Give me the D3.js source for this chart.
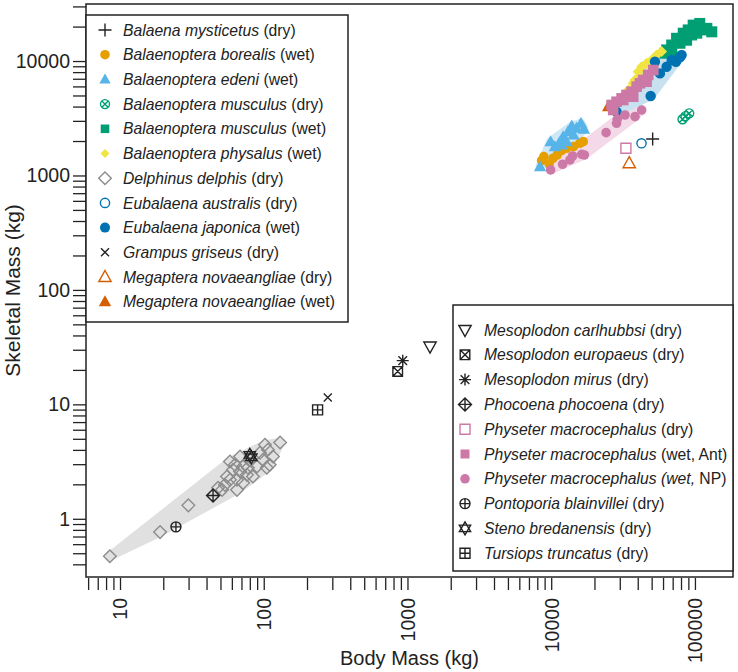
<!DOCTYPE html>
<html>
<head>
<meta charset="utf-8">
<script src="https://cdn.jsdelivr.net/npm/d3@7"></script>
<style>
  body { margin: 0; background: #fff; }
  svg { display: block; font-family: "Liberation Sans", Arial, sans-serif; }
</style>
</head>
<body>
<svg id="chart" width="738" height="672"></svg>
<script>
// each point: [body mass kg, skeletal mass kg]
const balaenaMysticetusDry = [[50800, 2080]];
const borealisWet = [[8570, 1349], [8890, 1461], [9680, 1260], [10300, 1414], [11000, 1510],
  [11800, 1648], [12800, 1729], [14300, 1785], [15800, 1911], [16700, 1975]];
const edeniWet = [[8360, 1194], [9910, 1975], [10600, 1785], [11400, 1935], [12100, 2183],
  [13100, 2415], [13900, 2706], [15000, 2582], [16100, 2858], [16900, 2531], [12800, 1975],
  [14300, 2259], [11800, 1846]];
const musculusDry = [[82000, 3100], [86000, 3300], [91200, 3490]];
const musculusWet = [[63500, 12500], [68900, 13800], [74500, 15800], [82900, 17500], [89800, 18700],
  [97200, 20600], [108000, 21300], [121000, 19300], [131000, 18000], [87500, 15200], [78700, 14300],
  [103000, 17500], [111000, 18700], [68900, 12100], [94800, 16900], [61800, 11700]];
const physalusWet = [[34400, 5580], [37200, 6390], [40300, 8070], [42600, 8920], [46100, 9550],
  [50000, 10200], [54100, 11300], [58600, 12100], [41400, 7290], [38300, 6820], [51300, 8920]];
const delphinusDry = [[8.5, 0.47], [19, 0.765], [29.9, 1.31], [130, 4.64], [58.2, 3.17], [68.4, 3.5],
  [110, 2.96], [116, 3.5], [107, 4.01], [94.2, 3.77], [89.8, 2.86], [71.8, 2.86], [61.1, 2.68],
  [58.2, 2.19], [53.7, 1.98], [51.3, 1.79], [65.2, 2.19], [71.8, 2.06], [76.4, 2.42], [84.1, 2.34],
  [68.4, 2.59], [80.2, 3.27], [98.9, 3.27], [105, 2.79], [55.5, 2.34], [65.2, 1.79], [48.1, 1.87],
  [102, 4.43], [77.6, 2.79], [63.1, 2.96]];
const australisDry = [[42500, 1910]];
const japonicaWet = [[49200, 4950], [52700, 9860], [57100, 7800], [63500, 8920], [68900, 10200],
  [73800, 9860], [78700, 10800], [80800, 11300], [28500, 3610]];
const grampusDry = [[279, 11.5]];
const megapteraDry = [[34900, 1280]];
const megapteraWet = [[24900, 3990]];
const carlhubbsiDry = [[1435, 32.0]];
const europaeusDry = [[855, 19.4]];
const mirusDry = [[927, 24.1]];
const phocoenaDry = [[44.4, 1.6]];
const physeterDry = [[33100, 1730]];
const physeterWetAnt = [[26300, 4130], [28500, 4410], [30900, 4720], [33400, 5050], [36200, 5400],
  [39300, 5970], [41400, 6390], [43600, 6820], [47300, 7550], [51300, 8340], [37200, 4880],
  [31700, 4560], [46100, 6590], [27000, 3730]];
const physeterWetNP = [[9910, 1117], [12000, 1253], [14100, 1480], [16300, 1531], [24100, 2366],
  [28500, 2858], [28800, 3097], [32600, 3375], [38300, 3265], [42600, 3730], [13500, 1366], [17000, 1510]];
const pontoporiaDry = [[24.5, 0.85]];
const stenoDry = [[80, 3.62], [82, 3.45]];
const tursiopsDry = [[237, 8.95]];

const xDomain = [5.8, 184000];
const yDomain = [0.31, 31500];

// series tables (style kept apart from values)
const seriesLeft = [
  { name: 'Balaena mysticetus', tag: ' (dry)', data: balaenaMysticetusDry, shape: 'plus', color: '#222', fill: false, r: 6.5, lr: 6.5 },
  { name: 'Balaenoptera borealis', tag: ' (wet)', data: borealisWet, shape: 'circle', color: '#E69F00', fill: true, r: 4.8, lr: 4.8 },
  { name: 'Balaenoptera edeni', tag: ' (wet)', data: edeniWet, shape: 'triUp', color: '#56B4E9', fill: true, r: 6.5, lr: 6 },
  { name: 'Balaenoptera musculus', tag: ' (dry)', data: musculusDry, shape: 'circleX', color: '#009E73', fill: false, r: 4.5, lr: 4.5 },
  { name: 'Balaenoptera musculus', tag: ' (wet)', data: musculusWet, shape: 'square', color: '#009E73', fill: true, r: 5.5, lr: 4.3 },
  { name: 'Balaenoptera physalus', tag: ' (wet)', data: physalusWet, shape: 'diamond', color: '#F0E442', fill: true, r: 5.5, lr: 4.5 },
  { name: 'Delphinus delphis', tag: ' (dry)', data: delphinusDry, shape: 'diamond', color: '#8c8c8c', fill: false, r: 6.3, lr: 6.3 },
  { name: 'Eubalaena australis', tag: ' (dry)', data: australisDry, shape: 'circle', color: '#0072B2', fill: false, r: 4.6, lr: 4.6 },
  { name: 'Eubalaena japonica', tag: ' (wet)', data: japonicaWet, shape: 'circle', color: '#0072B2', fill: true, r: 5.2, lr: 5 },
  { name: 'Grampus griseus', tag: ' (dry)', data: grampusDry, shape: 'cross', color: '#222', fill: false, r: 5, lr: 5 },
  { name: 'Megaptera novaeangliae', tag: ' (dry)', data: megapteraDry, shape: 'triUp', color: '#D55E00', fill: false, r: 6.5, lr: 6.5 },
  { name: 'Megaptera novaeangliae', tag: ' (wet)', data: megapteraWet, shape: 'triUp', color: '#D55E00', fill: true, r: 6.5, lr: 6.5 }
];
const seriesRight = [
  { name: 'Mesoplodon carlhubbsi', tag: ' (dry)', data: carlhubbsiDry, shape: 'triDown', color: '#222', fill: false, r: 6.5, lr: 6.5 },
  { name: 'Mesoplodon europaeus', tag: ' (dry)', data: europaeusDry, shape: 'squareX', color: '#222', fill: false, r: 4.8, lr: 4.8 },
  { name: 'Mesoplodon mirus', tag: ' (dry)', data: mirusDry, shape: 'asterisk', color: '#222', fill: false, r: 6, lr: 6 },
  { name: 'Phocoena phocoena', tag: ' (dry)', data: phocoenaDry, shape: 'diamondPlus', color: '#222', fill: false, r: 6.5, lr: 6.5 },
  { name: 'Physeter macrocephalus', tag: ' (dry)', data: physeterDry, shape: 'square', color: '#CC79A7', fill: false, r: 5, lr: 5 },
  { name: 'Physeter macrocephalus', tag: ' (wet, Ant)', data: physeterWetAnt, shape: 'square', color: '#CC79A7', fill: true, r: 5.3, lr: 4.5 },
  { name: 'Physeter macrocephalus (wet,', tag: ' NP)', data: physeterWetNP, shape: 'circle', color: '#CC79A7', fill: true, r: 4.8, lr: 4.8 },
  { name: 'Pontoporia blainvillei', tag: ' (dry)', data: pontoporiaDry, shape: 'circlePlus', color: '#222', fill: false, r: 5, lr: 5 },
  { name: 'Steno bredanensis', tag: ' (dry)', data: stenoDry, shape: 'star', color: '#222', fill: false, r: 6.5, lr: 6.5 },
  { name: 'Tursiops truncatus', tag: ' (dry)', data: tursiopsDry, shape: 'squarePlus', color: '#222', fill: false, r: 5, lr: 5 }
];

// shaded groups behind the points
const bands = [
  { data: delphinusDry, color: '#e0e0e0' },
  { data: physeterWetNP, color: '#f4d9e8' },
  { data: japonicaWet, color: '#c8e1f1' },
  { data: edeniWet, color: '#cfe7f6' }
];

function shapePath(shape, r) {
  const p = d3.path();
  const circ = () => { p.moveTo(r, 0); p.arc(0, 0, r, 0, 2 * Math.PI); };
  const plus = (s) => { p.moveTo(-s, 0); p.lineTo(s, 0); p.moveTo(0, -s); p.lineTo(0, s); };
  const cross = (s) => { p.moveTo(-s, -s); p.lineTo(s, s); p.moveTo(-s, s); p.lineTo(s, -s); };
  const diam = () => { p.moveTo(0, -r); p.lineTo(r, 0); p.lineTo(0, r); p.lineTo(-r, 0); p.closePath(); };
  switch (shape) {
    case 'circle': circ(); break;
    case 'square': p.rect(-r, -r, 2 * r, 2 * r); break;
    case 'diamond': diam(); break;
    case 'triUp': p.moveTo(0, -r); p.lineTo(r * 0.95, r * 0.7); p.lineTo(-r * 0.95, r * 0.7); p.closePath(); break;
    case 'triDown': p.moveTo(0, r); p.lineTo(r * 0.95, -r * 0.7); p.lineTo(-r * 0.95, -r * 0.7); p.closePath(); break;
    case 'plus': plus(r); break;
    case 'cross': cross(r * 0.8); break;
    case 'circleX': circ(); cross(r * 0.7); break;
    case 'circlePlus': circ(); plus(r); break;
    case 'squareX': p.rect(-r, -r, 2 * r, 2 * r); cross(r); break;
    case 'squarePlus': p.rect(-r, -r, 2 * r, 2 * r); plus(r); break;
    case 'diamondPlus': diam(); plus(r); break;
    case 'asterisk': plus(r); cross(r * 0.72); break;
    case 'star':
      p.moveTo(0, -r); p.lineTo(r * 0.87, r * 0.5); p.lineTo(-r * 0.87, r * 0.5); p.closePath();
      p.moveTo(0, r); p.lineTo(r * 0.87, -r * 0.5); p.lineTo(-r * 0.87, -r * 0.5); p.closePath();
      break;
  }
  return p.toString();
}

const svg = d3.select('#chart');
const plot = { left: 86, top: 4, right: 733, bottom: 577 };

const x = d3.scaleLog().domain(xDomain).range([plot.left, plot.right]);
const y = d3.scaleLog().domain(yDomain).range([plot.bottom, plot.top]);

const logTicks = (dom) => {
  const out = [];
  for (let k = -1; k <= 5; k++) for (let m = 1; m <= 9; m++) {
    const v = m * Math.pow(10, k);
    if (v >= dom[0] && v <= dom[1]) out.push(+v.toPrecision(3));
  }
  return out;
};
const isDecade = (v) => Math.abs(Math.log10(v) - Math.round(Math.log10(v))) < 1e-6;

// bands
const gBand = svg.append('g');
bands.forEach(b => {
  const pts = b.data.map(d => [x(d[0]), y(d[1])]);
  const hull = d3.polygonHull(pts);
  gBand.append('path')
    .attr('d', 'M' + hull.join('L') + 'Z')
    .attr('fill', b.color)
    .attr('stroke', b.color)
    .attr('stroke-width', 9)
    .attr('stroke-linejoin', 'round');
});

// axes
const yAxis = d3.axisLeft(y).tickValues(logTicks(yDomain)).tickSize(13).tickPadding(3)
  .tickFormat(d => isDecade(d) ? d3.format('d')(d) : '');
const gy = svg.append('g').attr('transform', `translate(${plot.left},0)`).call(yAxis);
gy.select('.domain').remove();
gy.selectAll('line').attr('stroke', '#222').attr('stroke-width', 1.3);
gy.selectAll('text').attr('font-size', 19.5).attr('fill', '#222').attr('font-family', 'Liberation Sans, Arial, sans-serif');

const xAxis = d3.axisBottom(x).tickValues(logTicks(xDomain)).tickSize(12)
  .tickFormat(d => isDecade(d) ? d3.format('d')(d) : '');
const gx = svg.append('g').attr('transform', `translate(0,${plot.bottom + 1})`).call(xAxis);
gx.select('.domain').remove();
gx.selectAll('line').attr('stroke', '#222').attr('stroke-width', 1.3);
gx.selectAll('text')
  .attr('font-size', 19.5).attr('fill', '#222').attr('font-family', 'Liberation Sans, Arial, sans-serif')
  .attr('transform', 'rotate(-90)')
  .attr('x', -20).attr('y', 0).attr('dy', '0.35em')
  .style('text-anchor', 'end');

// titles
svg.append('text')
  .attr('x', (plot.left + plot.right) / 2).attr('y', 665)
  .attr('text-anchor', 'middle').attr('font-size', 20).attr('fill', '#222')
  .text('Body Mass (kg)');
svg.append('text')
  .attr('transform', `translate(20,${(plot.top + plot.bottom) / 2}) rotate(-90)`)
  .attr('text-anchor', 'middle').attr('font-size', 21).attr('fill', '#222')
  .text('Skeletal Mass (kg)');

// points
const gPts = svg.append('g');
seriesLeft.concat(seriesRight).forEach(s => {
  gPts.append('g').selectAll('path').data(s.data).join('path')
    .attr('transform', d => `translate(${x(d[0])},${y(d[1])})`)
    .attr('d', shapePath(s.shape, s.r))
    .attr('fill', s.fill ? s.color : 'none')
    .attr('stroke', s.fill ? 'none' : s.color)
    .attr('stroke-width', 1.4);
});

// plot frame
svg.append('rect')
  .attr('x', plot.left).attr('y', plot.top)
  .attr('width', plot.right - plot.left).attr('height', plot.bottom - plot.top)
  .attr('fill', 'none').attr('stroke', '#222').attr('stroke-width', 1.5);

// legends
function legend(series, box, row0, step, symX, textX) {
  const g = svg.append('g');
  g.append('rect')
    .attr('x', box[0]).attr('y', box[1]).attr('width', box[2]).attr('height', box[3])
    .attr('fill', '#fff').attr('stroke', '#222').attr('stroke-width', 1.5);
  series.forEach((s, i) => {
    const cy = row0 + i * step;
    g.append('path')
      .attr('transform', `translate(${symX},${cy})`)
      .attr('d', shapePath(s.shape, s.lr))
      .attr('fill', s.fill ? s.color : 'none')
      .attr('stroke', s.fill ? 'none' : s.color)
      .attr('stroke-width', 1.4);
    const t = g.append('text')
      .attr('x', textX).attr('y', cy).attr('dy', '0.36em')
      .attr('font-size', 15.7).attr('fill', '#222');
    t.append('tspan').attr('font-style', 'italic').text(s.name);
    t.append('tspan').text(s.tag);
  });
}
legend(seriesLeft, [plot.left, 15, 262, 307], 30, 24.7, 105, 123);
legend(seriesRight, [453, 305, plot.right - 453, 266], 330, 24.8, 465, 484);
</script>
</body>
</html>
